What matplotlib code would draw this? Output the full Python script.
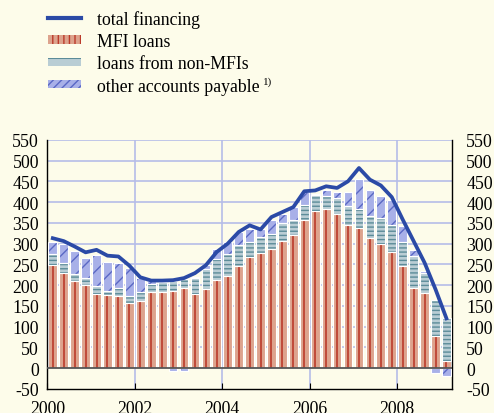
import numpy as np
import matplotlib
matplotlib.use('Agg')
import matplotlib.pyplot as plt
import matplotlib.transforms as mtransforms
from matplotlib.patches import Patch
from matplotlib.lines import Line2D

plt.rcParams['font.family'] = ['Liberation Serif', 'DejaVu Serif']
plt.rcParams['axes.unicode_minus'] = False

# quarters 2000Q1 .. 2009Q1
quarters = [2000 + i * 0.25 + 0.125 for i in range(37)]

mfi_loans = [249, 229, 210, 201, 178, 176, 175, 156, 162, 183,
             184, 187, 192, 179, 190, 212, 223, 247, 268, 278,
             286, 307, 320, 358, 379, 384, 371, 345, 337, 313,
             300, 280, 246, 194, 181, 78, 18]
non_mfi_loans = [26, 24, 16, 17, 21, 9, 17, 19, 21, 20,
                 24, 23, 23, 38, 49, 52, 53, 49, 37, 38,
                 36, 42, 38, 34, 37, 30, 39, 45, 47, 53,
                 61, 65, 58, 76, 48, 86, 102]
other_payable = [30, 46, 55, 48, 74, 70, 61, 67, 34, 8,
                 2, -7, -7, 2, 10, 23, 28, 32, 31, 20,
                 36, 23, 30, 32, 4, 14, 14, 34, 72, 64,
                 53, 59, 38, 15, 5, -11, -19]
total_financing = [313, 306, 293, 279, 285, 271, 269, 247, 219, 211,
                   211, 212, 217, 229, 248, 280, 300, 328, 344, 334,
                   364, 376, 388, 426, 428, 438, 434, 450, 482, 454,
                   440, 412, 358, 306, 254, 190, 120]

bg = '#fdfcea'
mfi_fill, mfi_line = '#dda38d', '#bb3b2b'
non_fill, non_line = '#b9cdd4', '#5c8c99'
oth_fill, oth_line = '#a8b0e8', '#5a68c4'
tot_col = '#2b4aa6'
grid_col = '#b6bde8'

fig = plt.figure(figsize=(4.94, 4.14), dpi=100, facecolor=bg)
ax = fig.add_axes([0.0958, 0.058, 0.819, 0.602])
ax.set_facecolor(bg)

x = np.array(quarters)
mfi = np.array(mfi_loans)
non = np.array(non_mfi_loans)
oth = np.array(other_payable)
w = 0.2

# grid
for yv in range(50, 551, 50):
    ax.axhline(yv, color=grid_col, lw=1.2, zorder=0)
for xv in [2002, 2004, 2006, 2008]:
    ax.axvline(xv, color=grid_col, lw=1.2, zorder=0)

oth_bottom = np.where(oth >= 0, mfi + non, 0)

ax.bar(x, mfi, w, color=mfi_fill, edgecolor='white', lw=0.8, zorder=2)
ax.vlines(x, 0, mfi, color=mfi_line, lw=1.2, zorder=3)
ax.bar(x, non, w, bottom=mfi, color=non_fill, edgecolor=non_line, lw=0,
       hatch='----', zorder=2)
ax.bar(x, non, w, bottom=mfi, fill=False, edgecolor='white', lw=0.8, zorder=3)
ax.bar(x, oth, w, bottom=oth_bottom, color=oth_fill, edgecolor=oth_line, lw=0,
       hatch='//', zorder=2)
ax.bar(x, oth, w, bottom=oth_bottom, fill=False, edgecolor='white', lw=0.8, zorder=3)

ax.axhline(0, color='#555555', lw=1.3, zorder=4)
ax.plot(x, total_financing, color=tot_col, lw=2.7, zorder=5,
        solid_joinstyle='round')

ax.set_xlim(2000, 2009.25)
ax.set_ylim(-50, 550)
ax.set_yticks(range(-50, 551, 50))
ax.set_xticks([2000, 2002, 2004, 2006, 2008])
ax.tick_params(axis='x', direction='in', length=4, pad=8, labelsize=12.8,
               color='black')
ax.tick_params(axis='y', length=0, labelsize=12.8, pad=6,
               labelright=True, right=False)
ax.spines['top'].set_visible(False)
for s in ['left', 'right', 'bottom']:
    ax.spines[s].set_color('black')
    ax.spines[s].set_linewidth(1.0)

# right-hand labels sit a bit further out
offset = mtransforms.ScaledTranslation(6 / 100, 0, fig.dpi_scale_trans)
for t in ax.yaxis.get_major_ticks():
    t.label2.set_transform(t.label2.get_transform() + offset)

handles = [
    Line2D([0], [0], color=tot_col, lw=3),
    Patch(facecolor=mfi_fill, edgecolor=mfi_line, hatch='|||', lw=0),
    Patch(facecolor=non_fill, edgecolor=non_line, hatch='-', lw=0),
    Patch(facecolor=oth_fill, edgecolor=oth_line, hatch='////', lw=0),
]
labels = ['total financing', 'MFI loans', 'loans from non-MFIs',
          'other accounts payable']
leg = fig.legend(handles, labels, loc='upper left', bbox_to_anchor=(0.075, 1.0),
                 frameon=False, fontsize=12.8, handlelength=1.9, handleheight=0.35,
                 handletextpad=0.9, labelspacing=0.3, borderaxespad=0.2)

# footnote mark after the last legend entry
fig.canvas.draw()
bb = leg.get_texts()[-1].get_window_extent()
fig.text((bb.x1 + 3) / fig.bbox.width, (bb.y1 + 1) / fig.bbox.height, '1)',
         fontsize=8, va='top', ha='left')

fig.savefig('out.png', dpi=100, facecolor=bg)
